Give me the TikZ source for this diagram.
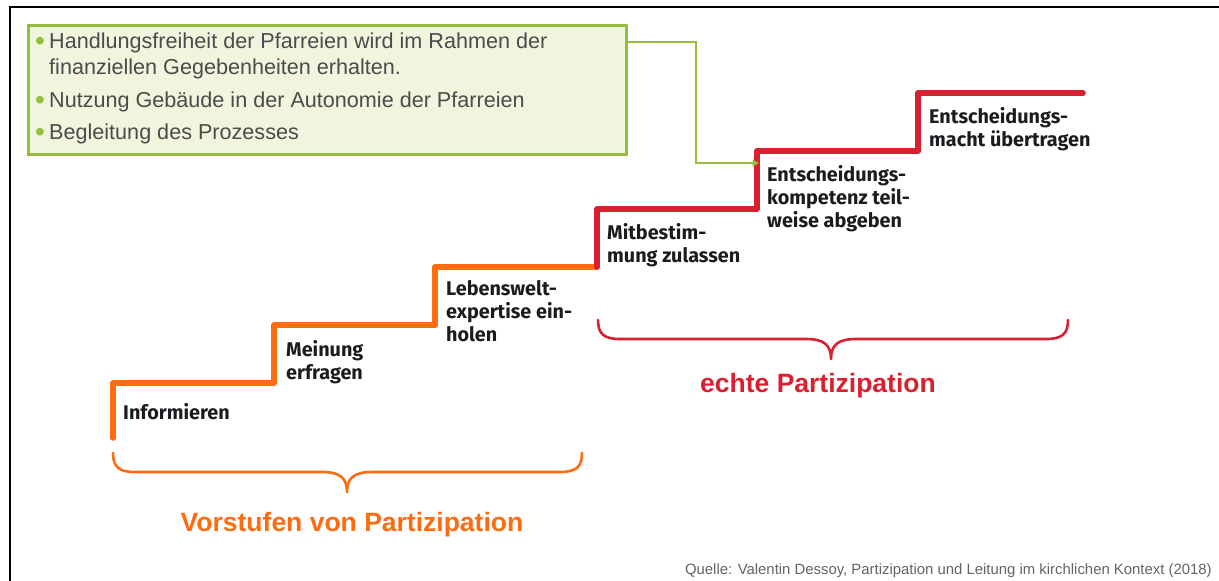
\documentclass[tikz,border=0pt]{standalone}
\usepackage{fontspec}
\setmainfont{Liberation Sans}
\newfontfamily\stepfont{Fira Sans}
\usetikzlibrary{arrows.meta}
\definecolor{stairorange}{RGB}{255,108,16}
\definecolor{stairred}{RGB}{218,32,48}
\definecolor{boxgreen}{RGB}{150,190,60}
\definecolor{boxfill}{RGB}{240,246,222}
\definecolor{boxtext}{RGB}{75,75,75}
\definecolor{steptext}{RGB}{28,28,32}
\definecolor{srctext}{RGB}{100,100,100}
\newcommand{\itembullet}{\makebox[14pt][l]{\raisebox{-1.6pt}{\textcolor{boxgreen}{\fontsize{28}{26}\selectfont\textbullet}}}}
\begin{document}
\begin{tikzpicture}[x=1pt,y=-1pt,
  stair/.style={line width=5.5pt,line cap=round,line join=round},
  steplabel/.style={anchor=north west,inner sep=0pt,align=left,text=steptext,
    font=\stepfont\bfseries\fontsize{19.8}{23}\selectfont},
  brace/.style={line width=2.6pt,line cap=round,line join=round},
  grouplabel/.style={font=\bfseries\fontsize{26.5}{30}\selectfont,inner sep=0pt},
  conn/.style={boxgreen,line width=2.2pt,-{Triangle[length=6.5pt,width=7pt]}},
]
\useasboundingbox (0,0) rectangle (1219,581);
\fill[white] (0,0) rectangle (1219,581);
% page frame
\draw[line width=2.5pt] (10,581) -- (10,7) -- (1219,7);

% info box
\node[draw=boxgreen,fill=boxfill,line width=2.6pt,minimum width=598pt,minimum height=129pt,
  anchor=north west,inner sep=0pt] (box) at (27,24) {};
\node[anchor=north west,inner sep=0pt,align=left,text=boxtext,
  font=\fontsize{21.6}{26}\selectfont] (boxtxt) at (35,33)
  {\itembullet Handlungsfreiheit der Pfarreien wird im Rahmen der\\
   \hspace*{14pt}finanziellen Gegebenheiten erhalten.\\[7pt]
   \itembullet Nutzung Gebäude in der Autonomie der Pfarreien\\[6pt]
   \itembullet Begleitung des Prozesses};

% stair corners
\coordinate (s0) at (113,438);
\coordinate (s1) at (113,383);
\coordinate (s2) at (274,383);
\coordinate (s3) at (274,325);
\coordinate (s4) at (435,325);
\coordinate (s5) at (435,267);
\coordinate (s6) at (597,267);
\coordinate (s7) at (597,209);
\coordinate (s8) at (757,209);
\coordinate (s9) at (757,151);
\coordinate (s10) at (918,151);
\coordinate (s11) at (918,93);
\coordinate (s12) at (1083,93);

\draw[stair,stairorange] (s0) -- (s1) -- (s2) -- (s3) -- (s4) -- (s5) -- (s6);
\draw[stair,stairred] (s6) -- (s7) -- (s8) -- (s9) -- (s10) -- (s11) -- (s12);

% step labels
\node[steplabel] (inf) at (123,403) {Informieren};
\node[steplabel] (mei) at (286,340) {Meinung\\erfragen};
\node[steplabel] (leb) at (446,280) {Lebenswelt-\\expertise ein-\\holen};
\node[steplabel] (mit) at (607,223) {Mitbestim-\\mung zulassen};
\node[steplabel] (ent) at (767,165) {Entscheidungs-\\kompetenz teil-\\weise abgeben};
\node[steplabel] (mac) at (929,107) {Entscheidungs-\\macht übertragen};

% connector from the box to the step
\coordinate (tip) at (759,163);
\draw[conn] ([yshift=-18pt]box.north east) -- ++(68,0) |- (tip);

% braces
\draw[brace,stairorange] (113,453) .. controls (113,467) and (119,472) .. (135,472)
  -- (322,472) .. controls (340,472) and (347,478) .. (347,492)
  .. controls (347,478) and (354,472) .. (372,472)
  -- (560,472) .. controls (576,472) and (582,467) .. (582,453);
\draw[brace,stairred] (598,320) .. controls (598,334) and (604,339) .. (620,339)
  -- (806,339) .. controls (824,339) and (831,345) .. (831,359)
  .. controls (831,345) and (838,339) .. (856,339)
  -- (1046,339) .. controls (1062,339) and (1068,334) .. (1068,320);

% group labels
\node[grouplabel,text=stairorange] (pre) at (352,525) {Vorstufen von Partizipation};
\node[grouplabel,text=stairred] (real) at (818,386) {echte Partizipation};

% source
\node[anchor=east,inner sep=0pt,text=srctext,font=\fontsize{14.9}{17}\selectfont] (src)
  at (1212,571) {Quelle: Valentin Dessoy, Partizipation und Leitung im kirchlichen Kontext (2018)};
\end{tikzpicture}
\end{document}
